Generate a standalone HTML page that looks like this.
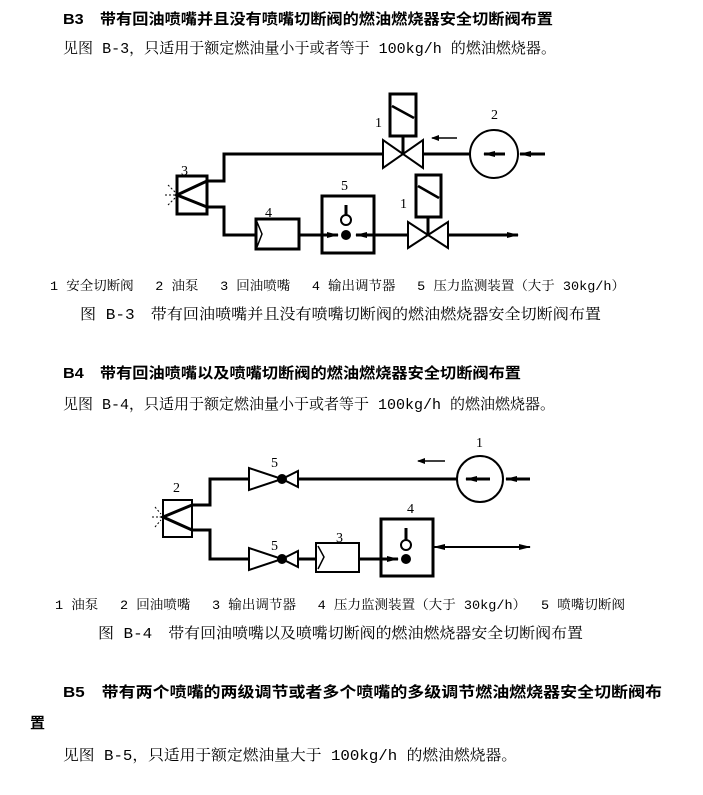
<!DOCTYPE html>
<html><head><meta charset="utf-8"><style>
html,body{margin:0;padding:0;background:#fff;}
svg{display:block}
.t{font-family:"Liberation Sans","Noto Sans CJK SC",sans-serif;font-size:15px;font-weight:bold;fill:#000}
.b{font-family:"Liberation Mono","Noto Serif CJK SC",serif;font-size:15px;fill:#000}
.l{font-family:"Liberation Mono","Noto Serif CJK SC",serif;font-size:13px;fill:#000}
.n{font-family:"Liberation Serif",serif;font-size:14px;fill:#000}
</style></head><body>
<svg width="703" height="795" viewBox="0 0 703 795" xmlns="http://www.w3.org/2000/svg">
<defs>
<marker id="ah" markerWidth="8" markerHeight="8" refX="7" refY="4" orient="auto" markerUnits="userSpaceOnUse"><path d="M0,1 L8,4 L0,7 Z" fill="#000"/></marker>
<marker id="ahs" markerWidth="12" markerHeight="8" refX="11" refY="4" orient="auto" markerUnits="userSpaceOnUse"><path d="M0,1 L12,4 L0,7 Z" fill="#000"/></marker>
</defs>
<!-- text -->
<text class="t" x="63" y="24" textLength="490" lengthAdjust="spacingAndGlyphs">B3　带有回油喷嘴并且没有喷嘴切断阀的燃油燃烧器安全切断阀布置</text>
<text class="b" x="63" y="53" textLength="493" lengthAdjust="spacingAndGlyphs">见图 B-3，只适用于额定燃油量小于或者等于 100kg/h 的燃油燃烧器。</text>
<text class="l" x="50" y="290" textLength="575" lengthAdjust="spacingAndGlyphs">1 安全切断阀　 2 油泵　 3 回油喷嘴　 4 输出调节器　 5 压力监测装置（大于 30kg/h）</text>
<text class="b" x="80" y="319" textLength="521" lengthAdjust="spacingAndGlyphs">图 B-3　带有回油喷嘴并且没有喷嘴切断阀的燃油燃烧器安全切断阀布置</text>
<text class="t" x="63" y="378" textLength="458" lengthAdjust="spacingAndGlyphs">B4　带有回油喷嘴以及喷嘴切断阀的燃油燃烧器安全切断阀布置</text>
<text class="b" x="63" y="409" textLength="492" lengthAdjust="spacingAndGlyphs">见图 B-4，只适用于额定燃油量小于或者等于 100kg/h 的燃油燃烧器。</text>
<text class="l" x="55" y="609" textLength="570" lengthAdjust="spacingAndGlyphs">1 油泵　 2 回油喷嘴　 3 输出调节器　 4 压力监测装置（大于 30kg/h）　 5 喷嘴切断阀</text>
<text class="b" x="98" y="638" textLength="485" lengthAdjust="spacingAndGlyphs">图 B-4　带有回油喷嘴以及喷嘴切断阀的燃油燃烧器安全切断阀布置</text>
<text class="t" x="63" y="697" textLength="599" lengthAdjust="spacingAndGlyphs">B5　带有两个喷嘴的两级调节或者多个喷嘴的多级调节燃油燃烧器安全切断阀布</text>
<text class="t" x="30" y="728">置</text>
<text class="b" x="63" y="760" textLength="454" lengthAdjust="spacingAndGlyphs">见图 B-5，只适用于额定燃油量大于 100kg/h 的燃油燃烧器。</text>

<!-- Diagram B-3 -->
<g stroke="#000" fill="none" stroke-width="3">
<polyline points="207,181 224,181 224,154 383,154"/>
<line x1="423" y1="154" x2="470" y2="154"/>
<rect x="390" y="94" width="26" height="42"/>
<line x1="392" y1="106" x2="414" y2="118" stroke-width="2.5"/>
<line x1="403" y1="136" x2="403" y2="154"/>
<circle cx="494" cy="154" r="24" stroke-width="2"/>
<line x1="505" y1="154" x2="484" y2="154" marker-end="url(#ahs)"/>
<line x1="545" y1="154" x2="520" y2="154" marker-end="url(#ahs)"/>
<rect x="177" y="176" width="30" height="38"/>
<polyline points="207,181 177,195 207,207"/>
<polyline points="207,207 224,207 224,235 255,235"/>
<rect x="256" y="219" width="43" height="30"/>
<line x1="299" y1="235" x2="338" y2="235" marker-end="url(#ahs)"/>
<rect x="322" y="196" width="52" height="57"/>
<line x1="346" y1="205" x2="346" y2="215"/>
<circle cx="346" cy="220" r="5" stroke-width="2"/>
<line x1="408" y1="235" x2="356" y2="235" marker-end="url(#ahs)"/>
<rect x="416" y="175" width="25" height="42"/>
<line x1="418" y1="186" x2="439" y2="198" stroke-width="2.5"/>
<line x1="428" y1="217" x2="428" y2="235"/>
<line x1="448" y1="235" x2="518" y2="235" marker-end="url(#ahs)"/>
</g>
<g stroke="#000" fill="none" stroke-width="2">
<path d="M383,140 L383,168 L423,140 L423,168 Z"/>
<path d="M408,222 L408,248 L448,222 L448,248 Z"/>
<line x1="457" y1="138" x2="432" y2="138" marker-end="url(#ah)" stroke-width="1.5"/>
<polyline points="257,222 262,234 257,247" stroke-width="1.5"/>
<line x1="165" y1="195" x2="175" y2="195" stroke-width="1" stroke-dasharray="2,2"/>
<line x1="168" y1="185" x2="175" y2="192" stroke-width="1" stroke-dasharray="2,2"/>
<line x1="168" y1="205" x2="175" y2="198" stroke-width="1" stroke-dasharray="2,2"/>
</g>
<circle cx="346" cy="235" r="5" fill="#000"/>
<text class="n" x="181" y="175">3</text>
<text class="n" x="265" y="217">4</text>
<text class="n" x="341" y="190">5</text>
<text class="n" x="375" y="127">1</text>
<text class="n" x="400" y="208">1</text>
<text class="n" x="491" y="119">2</text>

<!-- Diagram B-4 -->
<g stroke="#000" fill="none" stroke-width="3">
<polyline points="192,505 210,505 210,479 249,479"/>
<line x1="298" y1="479" x2="457" y2="479"/>
<circle cx="480" cy="479" r="23" stroke-width="2"/>
<line x1="490" y1="479" x2="466" y2="479" marker-end="url(#ahs)"/>
<line x1="530" y1="479" x2="506" y2="479" marker-end="url(#ahs)"/>
<rect x="163" y="500" width="29" height="37" stroke-width="2"/>
<polyline points="192,505 163,517 192,530"/>
<polyline points="192,530 210,530 210,559 249,559"/>
<line x1="298" y1="559" x2="316" y2="559"/>
<rect x="316" y="543" width="43" height="29" stroke-width="2"/>
<line x1="359" y1="559" x2="398" y2="559" marker-end="url(#ahs)"/>
<rect x="381" y="519" width="52" height="57"/>
<line x1="406" y1="528" x2="406" y2="540"/>
<circle cx="406" cy="545" r="5" stroke-width="2"/>
<line x1="436" y1="547" x2="530" y2="547" stroke-width="2" marker-end="url(#ahs)"/>
<line x1="446" y1="547" x2="434" y2="547" stroke-width="2" marker-end="url(#ahs)"/>
</g>
<g stroke="#000" fill="none" stroke-width="2">
<path d="M249,468 L249,490 L282,479 Z"/>
<path d="M298,471 L298,487 L282,479 Z"/>
<path d="M249,548 L249,570 L282,559 Z"/>
<path d="M298,551 L298,567 L282,559 Z"/>
<line x1="445" y1="461" x2="418" y2="461" stroke-width="1.5" marker-end="url(#ah)"/>
<polyline points="318,546 324,557 318,569" stroke-width="1.5"/>
<line x1="152" y1="517" x2="161" y2="517" stroke-width="1" stroke-dasharray="2,2"/>
<line x1="155" y1="507" x2="161" y2="514" stroke-width="1" stroke-dasharray="2,2"/>
<line x1="155" y1="527" x2="161" y2="520" stroke-width="1" stroke-dasharray="2,2"/>
</g>
<circle cx="282" cy="479" r="5" fill="#000"/>
<circle cx="282" cy="559" r="5" fill="#000"/>
<circle cx="406" cy="559" r="5" fill="#000"/>
<text class="n" x="476" y="447">1</text>
<text class="n" x="271" y="467">5</text>
<text class="n" x="173" y="492">2</text>
<text class="n" x="271" y="550">5</text>
<text class="n" x="336" y="542">3</text>
<text class="n" x="407" y="513">4</text>
</svg>
</body></html>
